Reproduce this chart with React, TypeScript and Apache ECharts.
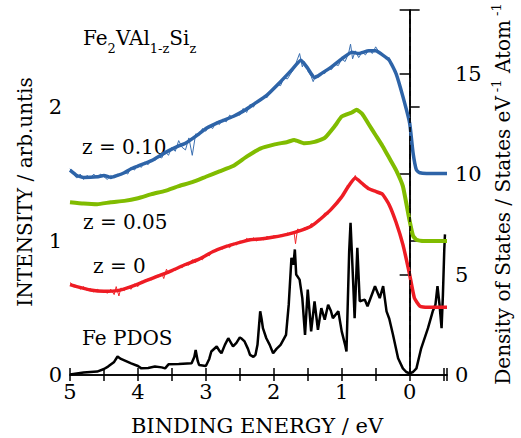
import React, { useEffect, useRef } from "react";
import * as echarts from "echarts";

// Binding energy (eV) vs intensity (arb. units)
const blueSmooth: [number, number][] = [
  [5.0, 1.53], [4.9, 1.49], [4.8, 1.475], [4.6, 1.48], [4.5, 1.49], [4.4, 1.475], [4.3, 1.49],
  [4.2, 1.51], [4.1, 1.54], [4.0, 1.56], [3.8, 1.6], [3.6, 1.66], [3.4, 1.71], [3.3, 1.73],
  [3.1, 1.8], [3.0, 1.84], [2.8, 1.89], [2.6, 1.93], [2.45, 1.97], [2.3, 2.02], [2.1, 2.09],
  [1.9, 2.19], [1.75, 2.27], [1.6, 2.35], [1.5, 2.29], [1.4, 2.22], [1.3, 2.25], [1.15, 2.3],
  [1.0, 2.36], [0.85, 2.41], [0.75, 2.4], [0.6, 2.42], [0.5, 2.42], [0.4, 2.39], [0.3, 2.35],
  [0.2, 2.25], [0.1, 2.08], [0.0, 1.88], [-0.05, 1.66], [-0.1, 1.53], [-0.15, 1.51],
  [-0.25, 1.505], [-0.55, 1.505],
];
const blueRaw: [number, number][] = [
  [5.0, 1.54], [4.95, 1.5], [4.9, 1.47], [4.85, 1.5], [4.8, 1.46], [4.75, 1.49], [4.7, 1.47],
  [4.65, 1.5], [4.6, 1.47], [4.55, 1.5], [4.5, 1.48], [4.45, 1.46], [4.4, 1.49], [4.35, 1.47],
  [4.3, 1.5], [4.25, 1.49], [4.2, 1.52], [4.15, 1.5], [4.1, 1.55], [4.05, 1.53], [4.0, 1.57],
  [3.95, 1.55], [3.9, 1.59], [3.85, 1.57], [3.8, 1.61], [3.75, 1.6], [3.7, 1.63], [3.65, 1.62],
  [3.6, 1.67], [3.55, 1.64], [3.5, 1.7], [3.45, 1.67], [3.4, 1.75], [3.35, 1.7], [3.3, 1.68],
  [3.25, 1.77], [3.2, 1.64], [3.15, 1.8], [3.1, 1.79], [3.05, 1.84], [3.0, 1.82], [2.95, 1.86],
  [2.9, 1.84], [2.85, 1.89], [2.8, 1.87], [2.75, 1.91], [2.7, 1.89], [2.65, 1.94], [2.6, 1.92],
  [2.55, 1.95], [2.5, 1.94], [2.45, 1.99], [2.4, 1.96], [2.35, 2.02], [2.3, 2.0], [2.25, 2.04],
  [2.2, 2.05], [2.15, 2.08], [2.1, 2.07], [2.05, 2.12], [2.0, 2.13], [1.95, 2.17], [1.9, 2.16],
  [1.85, 2.22], [1.8, 2.21], [1.75, 2.25], [1.7, 2.29], [1.65, 2.36], [1.62, 2.4], [1.58, 2.3],
  [1.55, 2.34], [1.5, 2.27], [1.45, 2.23], [1.42, 2.19], [1.38, 2.24], [1.35, 2.22], [1.3, 2.26],
  [1.25, 2.25], [1.2, 2.29], [1.15, 2.28], [1.1, 2.32], [1.05, 2.31], [1.0, 2.36], [0.95, 2.34],
  [0.9, 2.4], [0.87, 2.47], [0.84, 2.36], [0.8, 2.42], [0.75, 2.37], [0.7, 2.41], [0.65, 2.39],
  [0.6, 2.43], [0.55, 2.4], [0.5, 2.45], [0.45, 2.41], [0.4, 2.4], [0.35, 2.36], [0.3, 2.37],
  [0.25, 2.3], [0.2, 2.24], [0.15, 2.17], [0.1, 2.08], [0.05, 1.99], [0.0, 1.88], [-0.05, 1.67],
  [-0.1, 1.54], [-0.15, 1.515], [-0.2, 1.505], [-0.3, 1.51], [-0.4, 1.505], [-0.55, 1.505],
];
const greenSmooth: [number, number][] = [
  [5.0, 1.29], [4.8, 1.28], [4.6, 1.275], [4.4, 1.29], [4.2, 1.3], [4.0, 1.32], [3.8, 1.35],
  [3.6, 1.375], [3.4, 1.41], [3.2, 1.44], [3.0, 1.48], [2.8, 1.52], [2.6, 1.56], [2.4, 1.63],
  [2.2, 1.69], [2.0, 1.72], [1.8, 1.74], [1.7, 1.755], [1.55, 1.73], [1.4, 1.74], [1.25, 1.77],
  [1.1, 1.86], [1.0, 1.93], [0.85, 1.96], [0.78, 1.98], [0.7, 1.95], [0.6, 1.87], [0.5, 1.79],
  [0.4, 1.71], [0.3, 1.62], [0.2, 1.53], [0.1, 1.41], [0.0, 1.15], [-0.05, 1.04], [-0.1, 1.01],
  [-0.2, 1.0], [-0.55, 1.0],
];
const redSmooth: [number, number][] = [
  [5.0, 0.675], [4.9, 0.66], [4.7, 0.635], [4.5, 0.625], [4.3, 0.63], [4.1, 0.66], [3.9, 0.7],
  [3.7, 0.74], [3.5, 0.78], [3.3, 0.825], [3.1, 0.865], [2.9, 0.92], [2.7, 0.96], [2.5, 0.99],
  [2.35, 1.01], [2.2, 1.015], [2.0, 1.03], [1.8, 1.05], [1.6, 1.08], [1.45, 1.11], [1.3, 1.17],
  [1.15, 1.24], [1.0, 1.33], [0.9, 1.41], [0.8, 1.47], [0.7, 1.43], [0.6, 1.39], [0.5, 1.37],
  [0.4, 1.35], [0.3, 1.27], [0.2, 1.14], [0.1, 0.975], [0.0, 0.75], [-0.07, 0.575],
  [-0.15, 0.515], [-0.25, 0.505], [-0.55, 0.505],
];
const redRaw: [number, number][] = [
  [5.0, 0.69], [4.95, 0.67], [4.9, 0.665], [4.85, 0.64], [4.8, 0.66], [4.75, 0.63], [4.7, 0.645],
  [4.65, 0.62], [4.6, 0.64], [4.55, 0.625], [4.5, 0.63], [4.45, 0.61], [4.4, 0.64], [4.35, 0.6],
  [4.32, 0.66], [4.28, 0.59], [4.25, 0.65], [4.2, 0.63], [4.15, 0.66], [4.1, 0.64], [4.05, 0.68],
  [4.0, 0.66], [3.95, 0.7], [3.9, 0.69], [3.85, 0.72], [3.8, 0.71], [3.75, 0.74], [3.7, 0.73],
  [3.65, 0.76], [3.62, 0.72], [3.58, 0.79], [3.55, 0.76], [3.5, 0.79], [3.45, 0.78], [3.4, 0.81],
  [3.35, 0.8], [3.3, 0.83], [3.25, 0.82], [3.2, 0.86], [3.15, 0.84], [3.1, 0.87], [3.05, 0.86],
  [3.0, 0.9], [2.95, 0.89], [2.9, 0.93], [2.85, 0.92], [2.8, 0.95], [2.75, 0.94], [2.7, 0.97],
  [2.65, 0.95], [2.6, 0.985], [2.55, 0.97], [2.5, 1.0], [2.45, 0.99], [2.4, 1.02], [2.35, 1.0],
  [2.3, 1.025], [2.25, 1.0], [2.2, 1.02], [2.15, 1.01], [2.1, 1.035], [2.05, 1.02], [2.0, 1.04],
  [1.95, 1.03], [1.9, 1.045], [1.85, 1.04], [1.8, 1.06], [1.75, 1.05], [1.7, 1.06], [1.68, 0.98],
  [1.65, 1.09], [1.6, 1.08], [1.55, 1.1], [1.5, 1.09], [1.45, 1.13], [1.4, 1.12], [1.35, 1.16],
  [1.3, 1.17], [1.25, 1.21], [1.2, 1.2], [1.15, 1.25], [1.1, 1.26], [1.05, 1.3], [1.0, 1.32],
  [0.95, 1.37], [0.9, 1.41], [0.85, 1.44], [0.8, 1.49], [0.78, 1.46], [0.75, 1.46], [0.7, 1.43],
  [0.65, 1.41], [0.6, 1.39], [0.55, 1.385], [0.5, 1.37], [0.45, 1.36], [0.4, 1.345], [0.35, 1.31],
  [0.3, 1.27], [0.25, 1.21], [0.2, 1.14], [0.15, 1.06], [0.1, 0.975], [0.05, 0.87], [0.0, 0.75],
  [-0.05, 0.61], [-0.1, 0.54], [-0.15, 0.515], [-0.2, 0.505], [-0.55, 0.505],
];
// Fe partial density of states (States/eV/Atom)
const fePdos: [number, number][] = [
  [5.0, 0.03], [4.9, 0.08], [4.8, 0.12], [4.7, 0.15], [4.6, 0.17], [4.5, 0.3], [4.44, 0.42],
  [4.35, 0.65], [4.3, 0.92], [4.25, 0.8], [4.1, 0.58], [4.0, 0.45], [3.95, 0.33], [3.85, 0.35],
  [3.75, 0.42], [3.65, 0.38], [3.6, 0.33], [3.55, 0.53], [3.4, 0.55], [3.21, 0.58], [3.17, 0.9],
  [3.15, 1.25], [3.12, 0.7], [3.1, 0.5], [3.0, 0.45], [2.95, 0.8], [2.92, 1.17], [2.84, 1.42],
  [2.8, 1.2], [2.77, 1.08], [2.72, 1.5], [2.67, 1.83], [2.63, 1.6], [2.6, 1.42], [2.55, 1.6],
  [2.5, 1.87], [2.47, 1.8], [2.43, 1.67], [2.38, 1.3], [2.35, 1.0], [2.3, 0.9], [2.27, 1.0],
  [2.24, 1.5], [2.2, 3.17], [2.18, 2.8], [2.16, 2.33], [2.11, 1.83], [2.06, 1.5], [2.01, 1.08],
  [1.96, 1.3], [1.9, 1.5], [1.82, 2.0], [1.78, 3.5], [1.74, 5.83], [1.71, 5.5], [1.69, 6.25],
  [1.67, 5.0], [1.62, 4.75], [1.58, 3.83], [1.54, 2.0], [1.5, 4.25], [1.45, 2.17], [1.4, 3.67],
  [1.35, 2.25], [1.3, 3.33], [1.25, 2.75], [1.2, 3.5], [1.16, 3.2], [1.13, 2.83], [1.05, 3.17],
  [1.0, 2.17], [0.95, 1.5], [0.93, 1.17], [0.89, 6.17], [0.87, 7.58], [0.83, 4.5], [0.81, 2.83],
  [0.77, 6.33], [0.735, 3.67], [0.66, 3.75], [0.62, 3.42], [0.51, 4.42], [0.44, 3.83],
  [0.39, 4.42], [0.34, 3.17], [0.3, 2.8], [0.245, 2.0], [0.17, 0.83], [0.1, 0.33], [0.05, 0.15],
  [0.0, 0.08], [-0.05, 0.15], [-0.1, 0.33], [-0.17, 1.33], [-0.27, 2.33], [-0.34, 3.17],
  [-0.38, 3.5], [-0.41, 4.42], [-0.44, 3.5], [-0.47, 2.33], [-0.49, 4.0], [-0.51, 6.25],
  [-0.52, 7.0],
];

const FONT = "DejaVu Serif";
const isInt = (v: number) => Math.abs(v - Math.round(v)) < 1e-6;
// The axis runs on -E (so ticks start from a round minimum); labels show E.
const toAxis = (pts: [number, number][]) => pts.map(([e, y]) => [-e, y]);

export default function App() {
  const ref = useRef<HTMLDivElement>(null);
  useEffect(() => {
    if (!ref.current) return;
    const chart = echarts.init(ref.current, undefined, { renderer: "svg" });
    const axisLine = { show: true, lineStyle: { color: "#000", width: 1.5 } };
    const xCommon = {
      type: "value" as const,
      min: -5,
      max: 0.55,
      interval: 0.5,
      axisLine,
      splitLine: { show: false },
    };
    const txt = (size: number) => ({ fontFamily: FONT, fontSize: size, fill: "#000" });
    chart.setOption({
      animation: false,
      backgroundColor: "#fff",
      grid: { left: 70, right: 74, top: 10, bottom: 63 },
      xAxis: [
        {
          ...xCommon,
          position: "bottom",
          axisTick: { inside: true, length: 7, lineStyle: { color: "#000", width: 1.5 } },
          axisLabel: {
            margin: 6,
            color: "#000",
            fontFamily: FONT,
            fontSize: 21,
            formatter: (v: number) => (isInt(v) && v <= 0 ? String(Math.abs(Math.round(v))) : ""),
          },
        },
        {
          ...xCommon,
          position: "top",
          axisTick: { inside: true, length: 6, lineStyle: { color: "#000", width: 1.5 } },
          axisLabel: { show: false },
        },
      ],
      yAxis: [
        {
          type: "value",
          position: "left",
          min: 0,
          max: 2.725,
          interval: 1,
          axisLine,
          splitLine: { show: false },
          axisTick: { inside: true, length: 10, lineStyle: { color: "#000", width: 1.5 } },
          axisLabel: {
            margin: 8,
            color: "#000",
            fontFamily: FONT,
            fontSize: 21,
            formatter: (v: number) => (isInt(v) && v <= 2 ? String(Math.round(v)) : ""),
          },
        },
        {
          type: "value",
          position: "right",
          min: 0,
          max: 18.17,
          interval: 5,
          axisLine,
          splitLine: { show: false },
          axisTick: { inside: true, length: 10, lineStyle: { color: "#000", width: 1.5 } },
          axisLabel: {
            margin: 8,
            color: "#000",
            fontFamily: FONT,
            fontSize: 21,
            formatter: (v: number) => (v % 5 === 0 && v <= 15 ? String(v) : ""),
          },
        },
      ],
      series: [
        {
          type: "line",
          data: toAxis(fePdos),
          yAxisIndex: 1,
          showSymbol: false,
          lineStyle: { color: "#000", width: 2.5 },
          markLine: {
            silent: true,
            symbol: "none",
            label: { show: false },
            lineStyle: { color: "#000", type: [5, 4], width: 1.5 },
            data: [{ xAxis: 0 }],
          },
        },
        { type: "line", data: toAxis(redRaw), showSymbol: false, lineStyle: { color: "#f0282d", width: 1 } },
        { type: "line", data: toAxis(redSmooth), showSymbol: false, smooth: 0.15, lineStyle: { color: "#ee1c24", width: 3.5 } },
        { type: "line", data: toAxis(greenSmooth), showSymbol: false, smooth: 0.15, lineStyle: { color: "#80bc00", width: 4 } },
        { type: "line", data: toAxis(blueRaw), showSymbol: false, lineStyle: { color: "#3a6fb0", width: 1 } },
        { type: "line", data: toAxis(blueSmooth), showSymbol: false, smooth: 0.15, lineStyle: { color: "#2e64a8", width: 3.5 } },
      ],
      graphic: [
        {
          type: "text",
          x: 83,
          y: 38,
          style: {
            text: "{a|Fe}{s|2}{a|VAl}{s|1-z}{a|Si}{s|z}",
            verticalAlign: "middle",
            rich: {
              a: { ...txt(20), lineHeight: 26 },
              s: { ...txt(13), verticalAlign: "bottom", lineHeight: 26, padding: [0, 0, -4, 0] },
            },
          },
        },
        { type: "text", x: 82, y: 147, style: { text: "z = 0.10", ...txt(20), verticalAlign: "middle" } },
        { type: "text", x: 83, y: 222, style: { text: "z = 0.05", ...txt(20), verticalAlign: "middle" } },
        { type: "text", x: 93, y: 266, style: { text: "z = 0", ...txt(20), verticalAlign: "middle" } },
        { type: "text", x: 82, y: 338, style: { text: "Fe PDOS", ...txt(20), verticalAlign: "middle" } },
        {
          type: "text",
          x: 257,
          y: 426,
          style: { text: "BINDING ENERGY / eV", ...txt(21), align: "center", verticalAlign: "middle" },
        },
        {
          type: "text",
          x: 25,
          y: 192,
          rotation: Math.PI / 2,
          style: { text: "INTENSITY / arb.untis", ...txt(20), align: "center", verticalAlign: "middle" },
        },
        {
          type: "text",
          x: 503,
          y: 194,
          rotation: Math.PI / 2,
          style: {
            text: "{a|Density of States / States eV}{u|-1}{a| Atom}{u|-1}",
            align: "center",
            verticalAlign: "middle",
            rich: {
              a: { ...txt(20), lineHeight: 26 },
              u: { ...txt(13), verticalAlign: "top", lineHeight: 26, padding: [0, 0, 0, 4] },
            },
          },
        },
      ],
    });
    return () => chart.dispose();
  }, []);
  return <div ref={ref} style={{ position: "fixed", left: 0, top: 0, width: 521, height: 438 }} />;
}
